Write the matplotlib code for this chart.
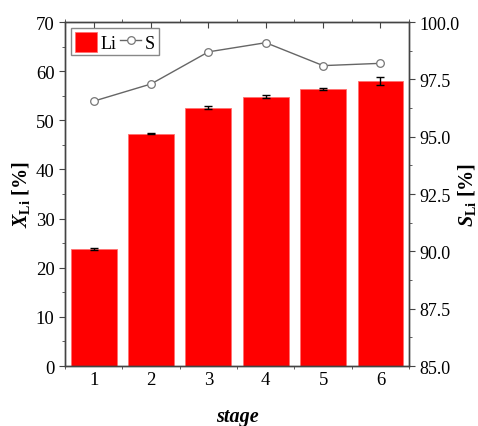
import matplotlib
matplotlib.use('Agg')
import matplotlib.pyplot as plt
from matplotlib.ticker import MultipleLocator, FormatStrFormatter

stages = [1, 2, 3, 4, 5, 6]
x_li = [23.8, 47.3, 52.6, 54.8, 56.4, 58.0]
x_li_err = [0.15, 0.1, 0.35, 0.3, 0.15, 0.9]
s_li = [96.55, 97.3, 98.7, 99.1, 98.1, 98.2]

plt.rcParams['font.family'] = ['Liberation Serif', 'DejaVu Serif']
plt.rcParams['mathtext.fontset'] = 'custom'
plt.rcParams['mathtext.rm'] = 'Liberation Serif'
plt.rcParams['mathtext.it'] = 'Liberation Serif:italic:bold'
plt.rcParams['mathtext.bf'] = 'Liberation Serif:bold'

fig = plt.figure(figsize=(4.78, 4.27), dpi=100)
ax = fig.add_axes([0.136, 0.1405, 0.72, 0.8055])
ax2 = ax.twinx()

bars = ax.bar(stages, x_li, width=0.8, color='#ff0000', edgecolor='#ff7070', linewidth=0.6,
              yerr=x_li_err, capsize=3, error_kw={'elinewidth': 1.0, 'capthick': 1.0, 'ecolor': 'black'},
              label='Li', zorder=2)
line, = ax2.plot(stages, s_li, '-o', color='#666666', lw=1.0, markersize=5.5,
                 markerfacecolor='white', markeredgecolor='#777777', markeredgewidth=0.9, label='S')

ax.set_xlim(0.5, 6.5)
ax.set_ylim(0, 70)
ax2.set_ylim(85, 100)
ax.set_xticks(stages)
ax.xaxis.set_minor_locator(MultipleLocator(0.5))
ax.yaxis.set_minor_locator(MultipleLocator(5))
ax2.yaxis.set_major_locator(MultipleLocator(2.5))
ax2.yaxis.set_minor_locator(MultipleLocator(1.25))
ax2.yaxis.set_major_formatter(FormatStrFormatter('%.1f'))

ax.tick_params(axis='x', which='major', direction='in', length=4, top=True, labelsize=13.5, color='#444444')
ax.tick_params(axis='x', which='minor', direction='out', length=2, top=True, color='#444444')
ax.tick_params(axis='y', which='major', direction='out', length=4, labelsize=13.5, color='#444444')
ax.tick_params(axis='y', which='minor', direction='out', length=2, color='#444444')
ax2.tick_params(axis='y', which='major', direction='out', length=4, labelsize=13, color='#444444')
ax2.tick_params(axis='y', which='minor', direction='out', length=2, color='#444444')
for a in (ax, ax2):
    for sp in a.spines.values():
        sp.set_color('#444444')
        sp.set_linewidth(1.0)

ax.set_ylabel(r'$X_{\mathbf{Li}}$ [%]', fontsize=14.5, fontweight='bold')
ax.yaxis.set_label_coords(-0.095, 0.5)
ax2.set_ylabel(r'$S_{\mathbf{Li}}$ [%]', fontsize=14.5, fontweight='bold')
ax2.yaxis.set_label_coords(1.135, 0.5)
ax.set_xlabel('stage', fontsize=14.5, fontweight='bold', style='italic')
ax.xaxis.set_label_coords(0.5, -0.115)

ax.legend([bars, line], ['Li', 'S'], loc='upper left', ncol=2,
          handlelength=1.2, handleheight=1.3, handletextpad=0.2, columnspacing=0.2, borderpad=0.2,
          borderaxespad=0.35, fancybox=False, edgecolor='#888888', framealpha=1,
          prop={'family': 'Liberation Serif', 'size': 13})

fig.savefig('out.png', dpi=100)
